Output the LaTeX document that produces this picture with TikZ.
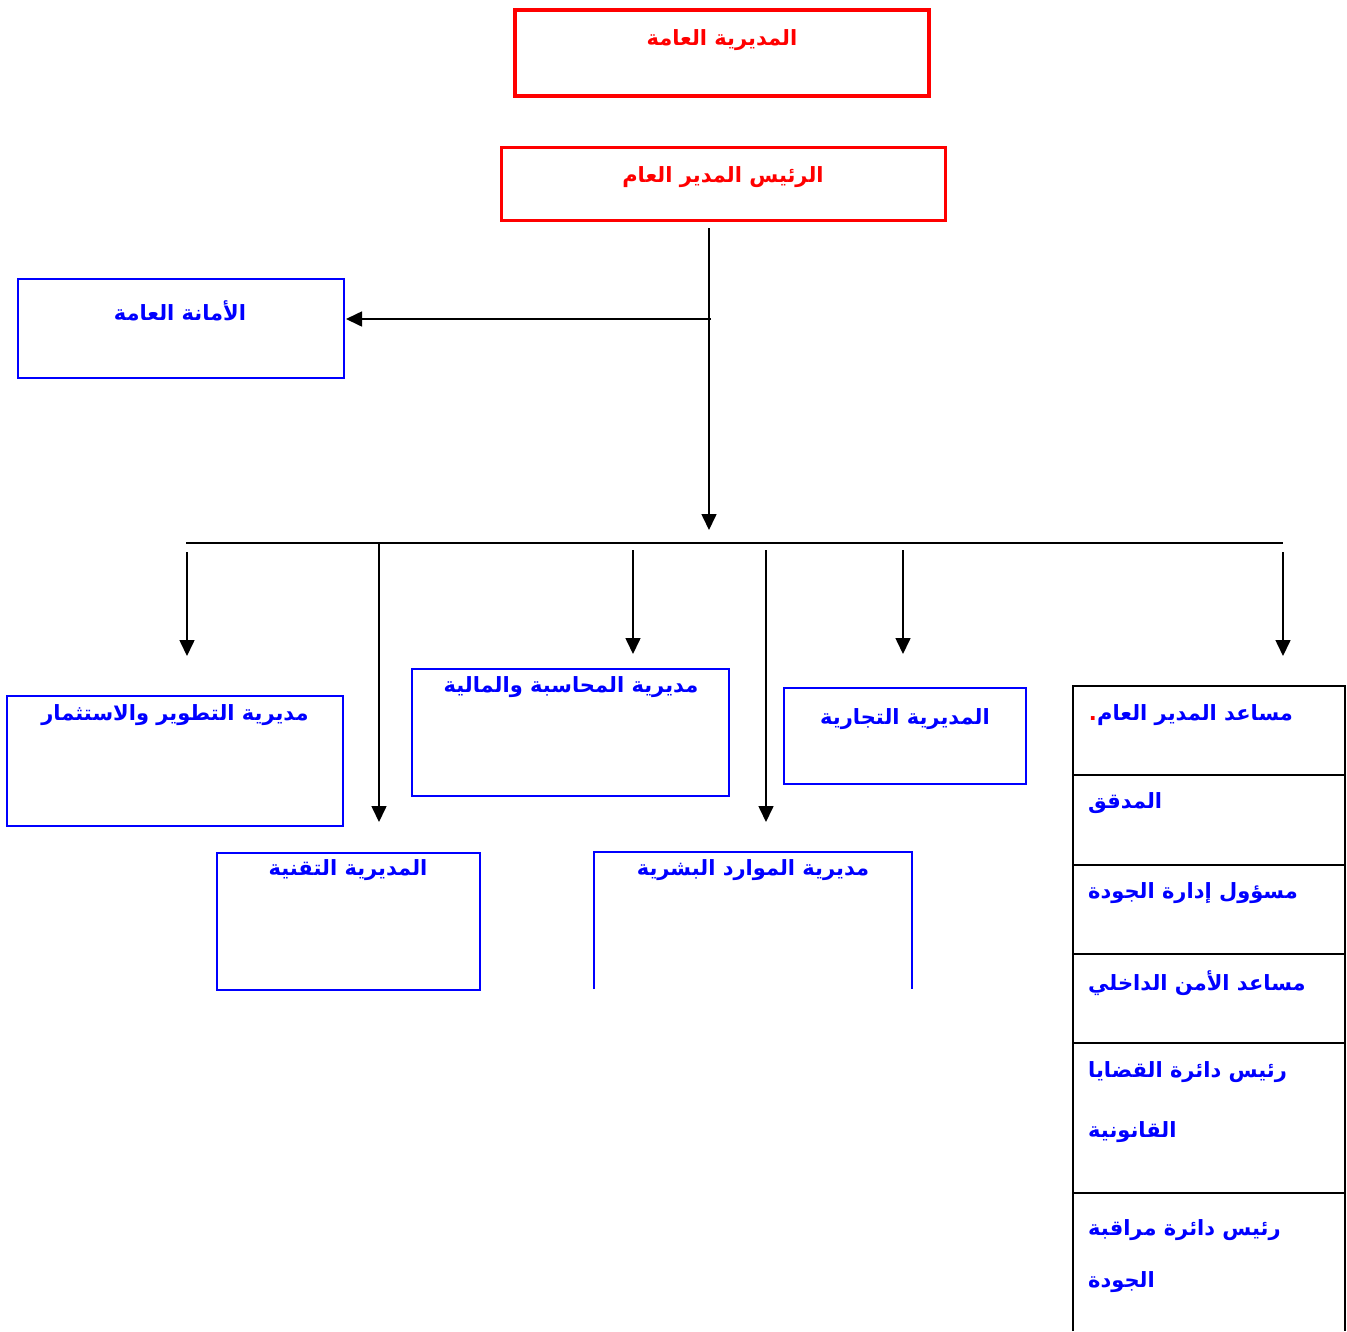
\documentclass[tikz,border=0pt]{standalone}
\usepackage{fontspec}
\TeXXeTstate=1
\newfontfamily\arabicfont[Script=Arabic]{DejaVu Sans}
\usetikzlibrary{arrows.meta}
\tikzset{
  redbox/.style={draw=red, line width=4pt},
  redboxb/.style={draw=red, line width=3pt},
  bluebox/.style={draw=blue, line width=2pt},
  blackline/.style={draw=black, line width=1.6pt},
  conn/.style={blackline, -{Triangle[length=16pt,width=15pt]}},
  ar/.style={font=\arabicfont\bfseries\fontsize{21}{24}\selectfont, inner sep=0pt},
  redtxt/.style={ar, text=red},
  bluetxt/.style={ar, text=blue},
  lefttxt/.style={bluetxt, anchor=west},
}
\begin{document}
\begin{tikzpicture}[x=1pt,y=-1pt]
\useasboundingbox (0,0) rectangle (1347,1331);
% boxes
\draw[redbox] (515,10) rectangle (929,96);
\draw[redboxb] (501,147) rectangle (945,220);
\draw[bluebox] (18,279) rectangle (344,378);
\draw[bluebox] (7,696) rectangle (343,826);
\draw[bluebox] (412,669) rectangle (729,796);
\draw[bluebox] (784,688) rectangle (1026,784);
\draw[bluebox] (217,853) rectangle (480,990);
\draw[bluebox] (594,989) -- (594,852) -- (912,852) -- (912,989);
% texts
\node[redtxt] (t1) at (722,40) {\beginR المديرية العامة\endR};
\node[redtxt] (t2) at (723,177) {\beginR الرئيس المدير العام\endR};
\node[bluetxt] (t3) at (180,311) {\beginR الأمانة العامة\endR};
\node[bluetxt] (t4) at (175,715) {\beginR مديرية التطوير والاستثمار\endR};
\node[bluetxt] (t5) at (571,687) {\beginR مديرية المحاسبة والمالية\endR};
\node[bluetxt] (t6) at (905,719) {\beginR المديرية التجارية\endR};
\node[bluetxt] (t7) at (348,870) {\beginR المديرية التقنية\endR};
\node[bluetxt] (t8) at (753,870) {\beginR مديرية الموارد البشرية\endR};
% right column
\draw[blackline] (1073,1331) -- (1073,686) -- (1345,686) -- (1345,1331);
\foreach \yy in {775,865,954,1043,1193} \draw[blackline] (1073,\yy) -- (1345,\yy);
\node[lefttxt] (r1) at (1097,715) {\beginR مساعد المدير العام\endR};
\node[ar, text=red, anchor=base east] (r1dot) at (r1.base west) {.};
\node[lefttxt] (r2) at (1088,803) {\beginR المدقق\endR};
\node[lefttxt] (r3) at (1088,893) {\beginR مسؤول إدارة الجودة\endR};
\node[lefttxt] (r4) at (1088,983) {\beginR مساعد الأمن الداخلي\endR};
\node[lefttxt] (r5) at (1088,1072) {\beginR رئيس دائرة القضايا\endR};
\node[lefttxt] (r6) at (1088,1132) {\beginR القانونية\endR};
\node[lefttxt] (r7) at (1088,1230) {\beginR رئيس دائرة مراقبة\endR};
\node[lefttxt] (r8) at (1088,1282) {\beginR الجودة\endR};
% connectors
\coordinate (v0) at (709,228);
\coordinate (v1) at (709,530);
\coordinate (h0) at (711,319);
\coordinate (h1) at (346,319);
\draw[conn] (v0) -- (v1);
\draw[conn] (h0) -- (h1);
\coordinate (busL) at (186,543);
\coordinate (busR) at (1283,543);
\draw[draw=black, line width=2.4pt] (busL) -- (busR);
\foreach \xx/\ya/\yb in {187/552/656, 633/550/654, 903/550/654, 1283/552/656, 379/543/822, 766/550/822}{
  \draw[conn] (\xx,\ya) -- (\xx,\yb);
}
\end{tikzpicture}
\end{document}
